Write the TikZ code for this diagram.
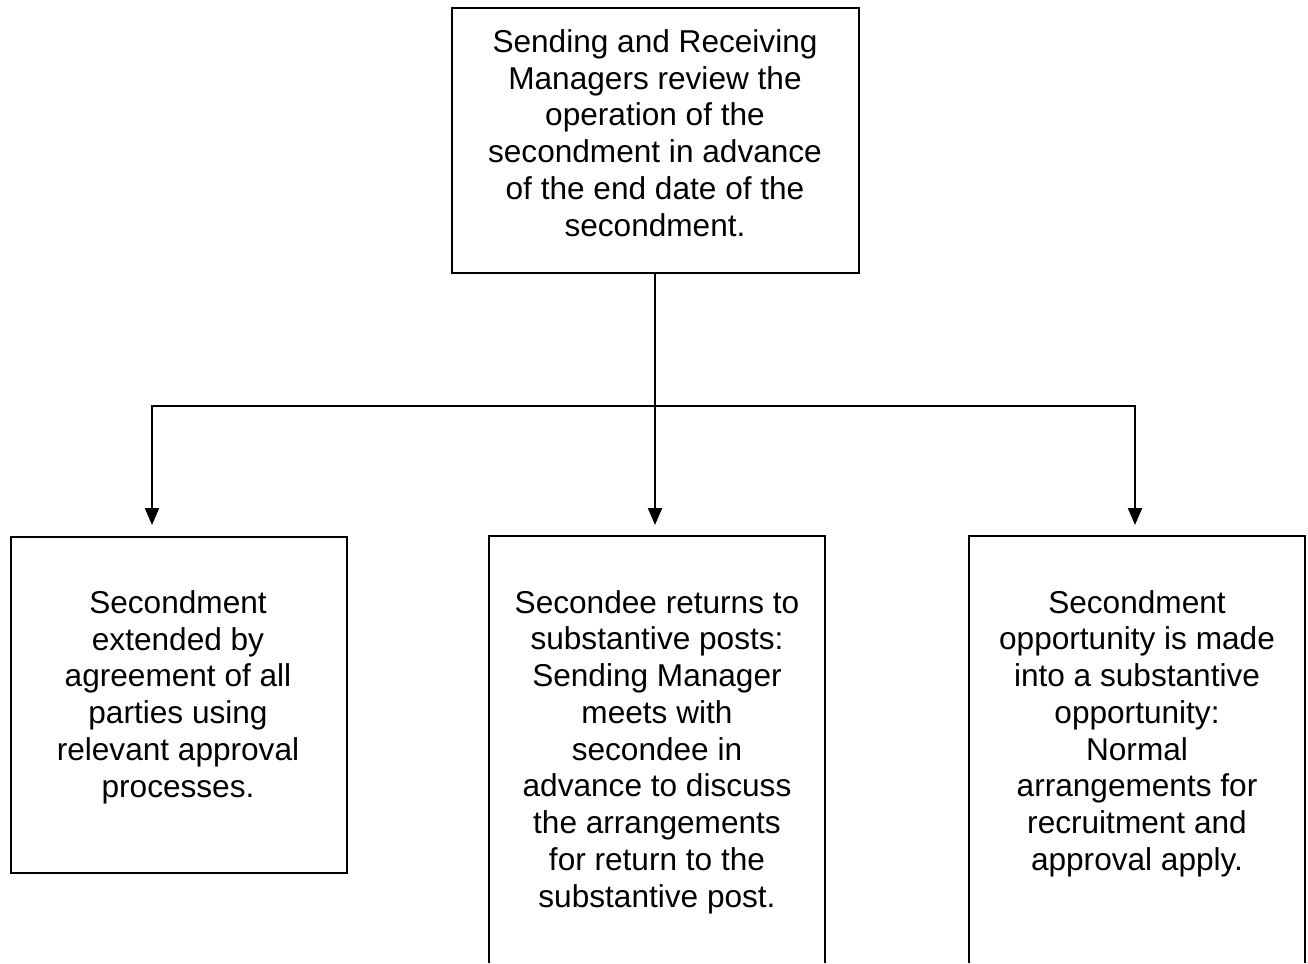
\documentclass[tikz,border=0pt]{standalone}
\usepackage{fontspec}
\setmainfont{Liberation Sans}
\usetikzlibrary{arrows.meta}
\begin{document}
\begin{tikzpicture}[x=1pt,y=-1pt,
  frame/.style={draw=black, line width=2pt, rectangle, inner sep=0pt},
  openframe/.style={draw=none, rectangle, inner sep=0pt},
  sides/.style={draw=black, line width=2pt},
  txt/.style={align=center, inner sep=0pt, font=\fontsize{31.6}{36.75}\selectfont},
  conn/.style={draw=black, line width=2pt},
  arr/.style={conn, -{Triangle[length=17pt,width=14pt]}},
  arrboth/.style={conn, {Triangle[length=17pt,width=14pt]}-{Triangle[length=17pt,width=14pt]}},
]
\useasboundingbox (0,0) rectangle (1308,963);

% boxes
\node[frame, minimum width=407pt, minimum height=265pt, anchor=north west] (top) at (451,7) {};
\node[frame, minimum width=336pt, minimum height=336pt, anchor=north west] (left) at (10,536) {};
\node[openframe, minimum width=336pt, minimum height=427pt, anchor=north west] (mid) at (489,536) {};
\node[openframe, minimum width=336pt, minimum height=427pt, anchor=north west] (right) at (969,536) {};
\draw[sides] (mid.south west) -- (mid.north west) -- (mid.north east) -- (mid.south east);
\draw[sides] (right.south west) -- (right.north west) -- (right.north east) -- (right.south east);

% texts
\node[txt] (toptext) at (655,133) {Sending and Receiving\\Managers review the\\operation of the\\secondment in advance\\of the end date of the\\secondment.};
\node[txt] (lefttext) at (178,697) {Secondment\\extended by\\agreement of all\\parties using\\relevant approval\\processes.};
\node[txt] (midtext) at (657,752) {Secondee returns to\\substantive posts:\\Sending Manager\\meets with\\secondee in\\advance to discuss\\the arrangements\\for return to the\\substantive post.};
\node[txt] (righttext) at (1137,733.5) {Secondment\\opportunity is made\\into a substantive\\opportunity:\\Normal\\arrangements for\\recruitment and\\approval apply.};

% connectors
\coordinate (jl) at (152,406);
\coordinate (jr) at (1135,406);
\coordinate (el) at (152,525);
\coordinate (em) at (655,525);
\coordinate (er) at (1135,525);
\draw[arr] (top.south -| em) -- (em);
\draw[arrboth] (el) -- (jl) -- (jr) -- (er);
\end{tikzpicture}
\end{document}
